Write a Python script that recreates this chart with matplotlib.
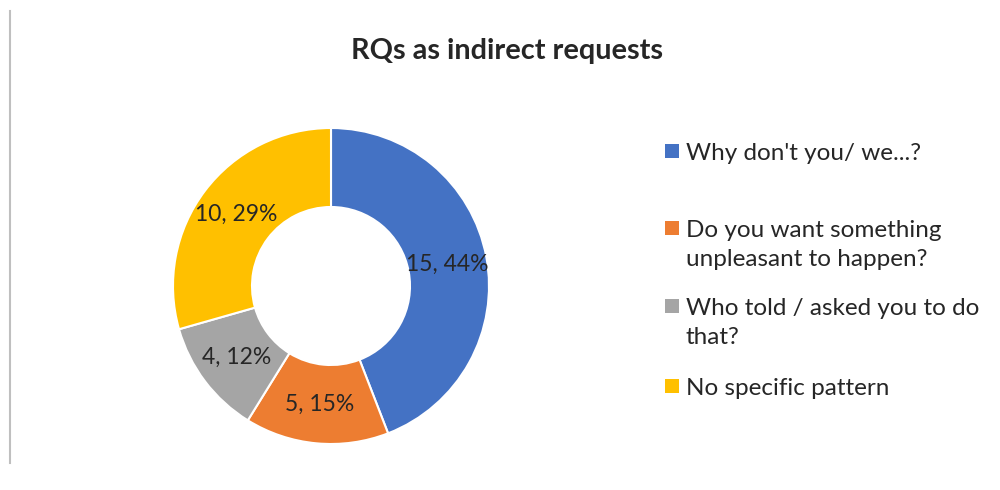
import matplotlib
matplotlib.use("Agg")
import matplotlib.pyplot as plt
from matplotlib.patches import Rectangle
from matplotlib.lines import Line2D

categories = ["Why don't you/ we...?",
              "Do you want something\nunpleasant to happen?",
              "Who told / asked you to do\nthat?",
              "No specific pattern"]
values = [15, 5, 4, 10]
colors = ["#4472C4", "#ED7D31", "#A5A5A5", "#FFC000"]
title = "RQs as indirect requests"

plt.rcParams['font.family'] = ['Lato', 'DejaVu Sans']

W, H = 1000, 490
fig = plt.figure(figsize=(W / 100, H / 100), dpi=100)
fig.patch.set_facecolor("white")

# left border line
fig.add_artist(Line2D([10 / W, 10 / W], [1 - 11 / H, 1 - 463 / H],
                      color="#BFBFBF", lw=1.5, transform=fig.transFigure))

cx, cy, r = 331, 286, 158
ax = fig.add_axes([(cx - r) / W, (H - cy - r) / H, 2 * r / W, 2 * r / H])
total = sum(values)


def fmt(pct):
    v = int(round(pct * total / 100.0))
    return f"{v}, {pct:.0f}%"


wedges, texts, autotexts = ax.pie(
    values, colors=colors, startangle=90, counterclock=False,
    radius=1.0, autopct=fmt, pctdistance=0.75,
    wedgeprops=dict(width=0.5, edgecolor="white", linewidth=1.5),
    textprops=dict(fontsize=16.5, color="#262626"))
ax.set_xlim(-1, 1)
ax.set_ylim(-1, 1)
ax.set_aspect("equal")
ax.axis("off")

fig.text(507 / W, 1 - 51 / H, title, ha="center", va="center",
         fontsize=20.8, fontweight="bold", color="#262626")

# legend drawn manually
leg_y = [151, 228, 306, 386]
line_h = 30
for lab, col, y in zip(categories, colors, leg_y):
    fig.add_artist(Rectangle((665 / W, 1 - (y + 7) / H), 14 / W, 14 / H,
                             facecolor=col, edgecolor="none",
                             transform=fig.transFigure))
    for i, part in enumerate(lab.split("\n")):
        fig.text(686 / W, 1 - (y + i * line_h) / H, part, ha="left",
                 va="center_baseline", fontsize=17.5, color="#262626")

fig.savefig("out.png", dpi=100, facecolor="white")
